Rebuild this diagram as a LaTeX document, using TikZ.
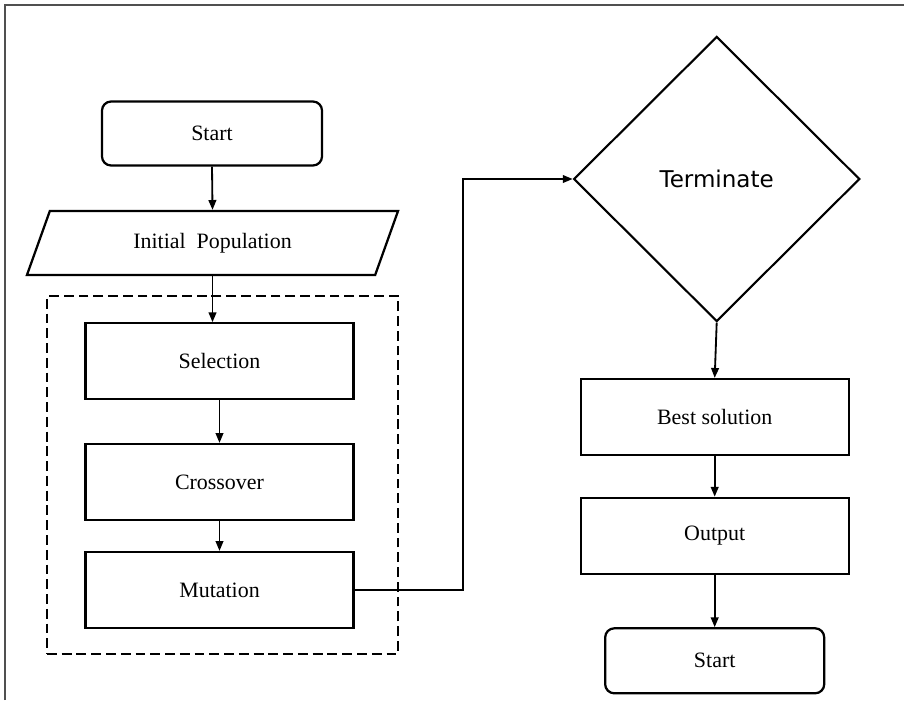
\documentclass[tikz,border=0pt]{standalone}
\usepackage{fontspec}
\usepackage{xcolor}
\usepackage{tikz}
\usetikzlibrary{shapes.geometric, arrows.meta, positioning, calc}
\setmainfont{Liberation Serif}
\newfontfamily\termfont{DejaVu Sans}
\definecolor{flowline}{HTML}{000000}
\definecolor{framegray}{HTML}{505050}

\begin{document}
\begin{tikzpicture}[
    x=0.025cm, y=-0.025cm,
    stepbox/.style={rectangle, draw=flowline, line width=1.6pt, minimum width=6.7cm, minimum height=1.9cm, inner sep=0pt, font=\fontsize{15.6}{18}\selectfont},
    endbox/.style={rectangle, rounded corners=6.5pt, draw=flowline, line width=1.6pt, minimum width=5.5cm, minimum height=1.6cm, inner sep=0pt, font=\fontsize{15.6}{18}\selectfont},
    iobox/.style={trapezium, trapezium left angle=41, trapezium right angle=139, trapezium stretches body, draw=flowline, line width=1.6pt, minimum width=9.275cm, minimum height=1.6cm, inner sep=0pt, font=\fontsize{15.6}{18}\selectfont},
    decbox/.style={diamond, draw=flowline, line width=1.5pt, minimum width=7.15cm, minimum height=7.125cm, inner sep=0pt, font=\termfont\fontsize{16.4}{19}\selectfont},
    groupbox/.style={rectangle, draw=flowline, line width=1.5pt, dash pattern=on 7pt off 3.5pt, minimum width=8.775cm, minimum height=8.95cm, inner sep=0pt},
    arrow/.style={-{Triangle[length=7pt, width=5.5pt]}, line width=1.3pt, color=flowline}
]
\useasboundingbox (0,0) rectangle (904,700);
% Frame
\draw[framegray, line width=1.4pt] (5,700) -- (5,5) -- (904,5);

% Left column
\node[endbox] (start) at (212,133.5) {Start};
\node[iobox] (init) at (212.5,243) {Initial\ \ Population};
\node[groupbox] (loop) at (222.5,475) {};
\node[stepbox] (sel) at (219.5,361.3) {Selection};
\node[stepbox] (cross) at (219.5,482) {Crossover};
\node[stepbox] (mut) at (219.5,590) {Mutation};

% Right column
\node[decbox] (term) at (716.7,179) {Terminate};
\node[stepbox] (best) at (714.7,417) {Best solution};
\node[stepbox] (out) at (714.7,535.8) {Output};
\node[endbox, minimum width=5.475cm, minimum height=1.625cm] (stop) at (714.7,660.8) {Start};

% Connectors
\draw[arrow] (start.south) -- (init.north);
\draw[arrow] (init.south) -- (init.south |- sel.north);
\draw[arrow, line width=1.1pt] (sel.south) -- (cross.north);
\draw[arrow, line width=1.1pt] (cross.south) -- (mut.north);
\coordinate (bend) at (463,179);
\draw[arrow, line width=1.1pt] (mut.east) -| (bend) -- (term.west);
\draw[arrow] (term.south) -- (best.north);
\draw[arrow] (best.south) -- (out.north);
\draw[arrow] (out.south) -- (stop.north);

\end{tikzpicture}
\end{document}
